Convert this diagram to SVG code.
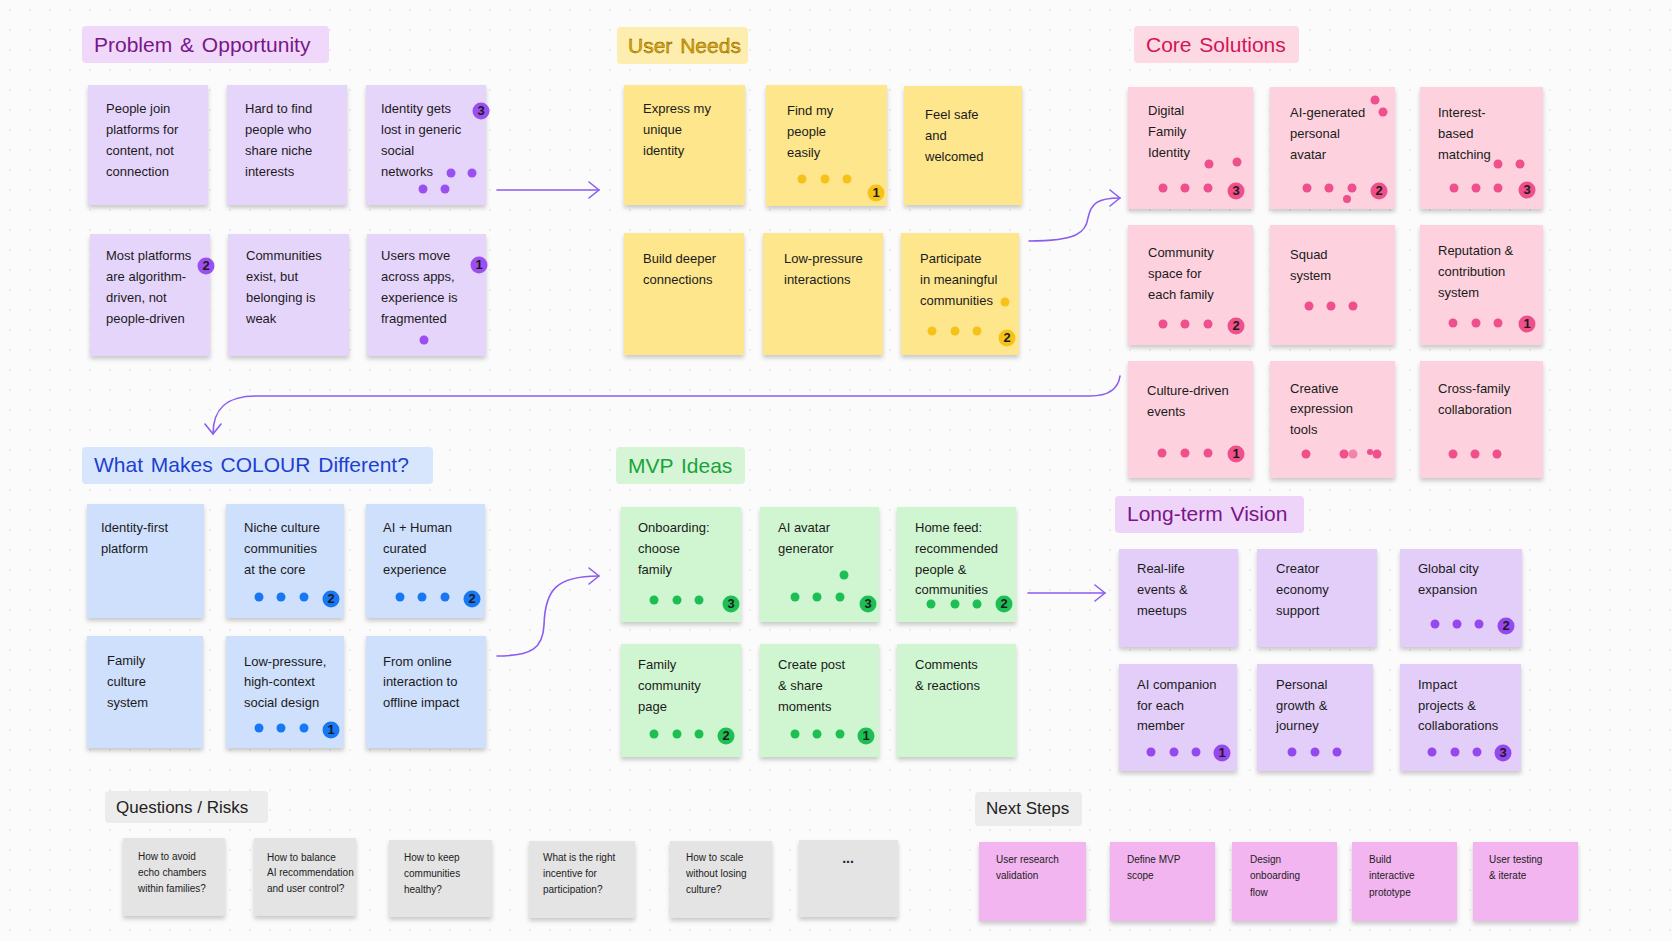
<svg xmlns="http://www.w3.org/2000/svg" width="1672" height="941" viewBox="0 0 1672 941">
<defs>
<pattern id="grid" width="20" height="20" patternUnits="userSpaceOnUse"><circle cx="10" cy="10" r="0.9" fill="#e4e4e4"/></pattern>
<filter id="sh" x="-10%" y="-10%" width="120%" height="130%"><feDropShadow dx="0" dy="3" stdDeviation="2" flood-color="#000" flood-opacity="0.2"/></filter>
<marker id="ah" viewBox="0 0 12 18" refX="11" refY="9" markerWidth="12" markerHeight="18" markerUnits="userSpaceOnUse" orient="auto"><path d="M1,1 L11,9 L1,17" fill="none" stroke="#8b5cf0" stroke-width="1.6" stroke-linecap="round" stroke-linejoin="round"/></marker>
<style>
text{font-family:"Liberation Sans",Arial,sans-serif}
.n text{font-size:13px;fill:#1b1b1b}
.note{filter:url(#sh)}
.t{font-size:21px;word-spacing:2px}
.ts{font-size:17px;fill:#222}
.q text{font-size:10px;fill:#222}
.s text{font-size:10px;fill:#222}
.b{font-size:10px;font-weight:bold;fill:#fff;text-anchor:middle}
.by{font-size:10px;font-weight:bold;fill:#8a6500;text-anchor:middle}
.pu{fill:#e6d5fb}.puT{fill:#efd8fa}.puD{fill:#9b4ff0}
.ye{fill:#fde68c}.yeT{fill:#fdeeb0}.yeD{fill:#f6c21a}
.pk{fill:#fdd2de}.pkT{fill:#fcd9e3}.pkD{fill:#ef4f8b}
.bl{fill:#cfe0fc}.blT{fill:#d8e6fd}.blD{fill:#1877f2}
.gr{fill:#d0f6d1}.grT{fill:#d6f5d7}.grD{fill:#1dbf55}
.vi{fill:#e3cefa}.viT{fill:#eed4f9}.viD{fill:#9448ee}
.gy{fill:#e4e4e4}.gyT{fill:#ececec}
.mg{fill:#f3b5f0}
.edge{fill:none;stroke:#8b5cf0;stroke-width:1.6;stroke-linecap:round}
</style>
</defs>
<rect width="1672" height="941" fill="#fbfbfb"/>
<rect width="1672" height="941" fill="url(#grid)"/>

<!-- Titles -->
<g id="title-problem"><rect x="82" y="26" width="247" height="37" rx="4" class="puT"/><text x="94" y="52" class="t" fill="#7a1688">Problem &amp; Opportunity</text></g>
<g id="title-needs"><rect x="617" y="27" width="131" height="37" rx="4" class="yeT"/><text x="628" y="53" class="t" fill="#e5ab00" stroke="#6b4a00" stroke-width="0.4">User Needs</text></g>
<g id="title-core"><rect x="1134" y="26" width="165" height="37" rx="4" class="pkT"/><text x="1146" y="52" class="t" fill="#d3145a">Core Solutions</text></g>
<g id="title-diff"><rect x="82" y="447" width="351" height="37" rx="4" class="blT"/><text x="94" y="472" class="t" fill="#1c3fd0">What Makes COLOUR Different?</text></g>
<g id="title-mvp"><rect x="616" y="447" width="129" height="37" rx="4" class="grT"/><text x="628" y="473" class="t" fill="#19a33a">MVP Ideas</text></g>
<g id="title-vision"><rect x="1115" y="496" width="189" height="37" rx="4" class="viT"/><text x="1127" y="521" class="t" fill="#7a1688">Long-term Vision</text></g>
<g id="title-questions"><rect x="105" y="791" width="163" height="32" rx="4" class="gyT"/><text x="116" y="813" class="ts">Questions / Risks</text></g>
<g id="title-next"><rect x="975" y="792" width="107" height="34" rx="4" class="gyT"/><text x="986" y="814" class="ts">Next Steps</text></g>

<!-- Connectors -->
<g id="connectors">
<path class="edge" d="M497,190 L599,190" marker-end="url(#ah)"/>
<path class="edge" d="M1029,241 C1078,241 1086,232 1088,218 C1091,203 1098,198 1120,198" marker-end="url(#ah)"/>
<path class="edge" d="M1120,376 C1118,390 1108,396 1090,396 L256,396 C225,396 213,410 213,434" marker-end="url(#ah)"/>
<path class="edge" d="M497,656 C532,656 543,648 544,625 C545,590 556,576 599,576" marker-end="url(#ah)"/>
<path class="edge" d="M1028,593 L1105,593" marker-end="url(#ah)"/>
</g>

<!-- Problem & Opportunity -->
<g id="p1" class="n"><rect class="note pu" x="88" y="85" width="120" height="120"/><text><tspan x="106" y="113">People join</tspan><tspan x="106" y="134">platforms for</tspan><tspan x="106" y="155">content, not</tspan><tspan x="106" y="176">connection</tspan></text></g>
<g id="p2" class="n"><rect class="note pu" x="227" y="85" width="120" height="120"/><text><tspan x="245" y="113">Hard to find</tspan><tspan x="245" y="134">people who</tspan><tspan x="245" y="155">share niche</tspan><tspan x="245" y="176">interests</tspan></text></g>
<g id="p3" class="n"><rect class="note pu" x="366" y="85" width="120" height="120"/><text><tspan x="381" y="113">Identity gets</tspan><tspan x="381" y="134">lost in generic</tspan><tspan x="381" y="155">social</tspan><tspan x="381" y="176">networks</tspan></text>
<circle cx="451" cy="173" r="4.5" class="puD"/><circle cx="472" cy="173" r="4.5" class="puD"/><circle cx="423" cy="189" r="4.5" class="puD"/><circle cx="445" cy="189" r="4.5" class="puD"/>
<circle cx="481" cy="111" r="8.5" class="puD"/><text x="481" y="114.5" class="b">3</text></g>
<g id="p4" class="n"><rect class="note pu" x="90" y="234" width="120" height="122"/><text><tspan x="106" y="260">Most platforms</tspan><tspan x="106" y="281">are algorithm-</tspan><tspan x="106" y="302">driven, not</tspan><tspan x="106" y="323">people-driven</tspan></text>
<circle cx="206" cy="266" r="8.5" class="puD"/><text x="206" y="269.5" class="b">2</text></g>
<g id="p5" class="n"><rect class="note pu" x="228" y="234" width="121" height="122"/><text><tspan x="246" y="260">Communities</tspan><tspan x="246" y="281">exist, but</tspan><tspan x="246" y="302">belonging is</tspan><tspan x="246" y="323">weak</tspan></text></g>
<g id="p6" class="n"><rect class="note pu" x="367" y="234" width="119" height="122"/><text><tspan x="381" y="260">Users move</tspan><tspan x="381" y="281">across apps,</tspan><tspan x="381" y="302">experience is</tspan><tspan x="381" y="323">fragmented</tspan></text>
<circle cx="424" cy="340" r="4.5" class="puD"/>
<circle cx="479" cy="265" r="8.5" class="puD"/><text x="479" y="268.5" class="b">1</text></g>

<!-- User Needs -->
<g id="u1" class="n"><rect class="note ye" x="624" y="85" width="121" height="120"/><text><tspan x="643" y="113">Express my</tspan><tspan x="643" y="134">unique</tspan><tspan x="643" y="155">identity</tspan></text></g>
<g id="u2" class="n"><rect class="note ye" x="766" y="85" width="121" height="121"/><text><tspan x="787" y="115">Find my</tspan><tspan x="787" y="136">people</tspan><tspan x="787" y="157">easily</tspan></text>
<circle cx="802" cy="179" r="4.5" class="yeD"/><circle cx="825" cy="179" r="4.5" class="yeD"/><circle cx="847" cy="179" r="4.5" class="yeD"/>
<circle cx="876" cy="193" r="8.5" class="yeD"/><text x="876" y="196.5" class="by">1</text></g>
<g id="u3" class="n"><rect class="note ye" x="904" y="86" width="118" height="119"/><text><tspan x="925" y="119">Feel safe</tspan><tspan x="925" y="140">and</tspan><tspan x="925" y="161">welcomed</tspan></text></g>
<g id="u4" class="n"><rect class="note ye" x="624" y="233" width="120" height="122"/><text><tspan x="643" y="263">Build deeper</tspan><tspan x="643" y="284">connections</tspan></text></g>
<g id="u5" class="n"><rect class="note ye" x="763" y="233" width="120" height="122"/><text><tspan x="784" y="263">Low-pressure</tspan><tspan x="784" y="284">interactions</tspan></text></g>
<g id="u6" class="n"><rect class="note ye" x="901" y="233" width="118" height="122"/><text><tspan x="920" y="263">Participate</tspan><tspan x="920" y="284">in meaningful</tspan><tspan x="920" y="305">communities</tspan></text>
<circle cx="1005" cy="302" r="4.5" class="yeD"/><circle cx="932" cy="331" r="4.5" class="yeD"/><circle cx="955" cy="331" r="4.5" class="yeD"/><circle cx="977" cy="331" r="4.5" class="yeD"/>
<circle cx="1007" cy="338" r="8.5" class="yeD"/><text x="1007" y="341.5" class="by">2</text></g>

<!-- Core Solutions -->
<g id="c1" class="n"><rect class="note pk" x="1128" y="87" width="125" height="122"/><text><tspan x="1148" y="115">Digital</tspan><tspan x="1148" y="136">Family</tspan><tspan x="1148" y="157">Identity</tspan></text>
<circle cx="1209" cy="164" r="4.5" class="pkD"/><circle cx="1237" cy="162" r="4.5" class="pkD"/><circle cx="1163" cy="188" r="4.5" class="pkD"/><circle cx="1185" cy="188" r="4.5" class="pkD"/><circle cx="1208" cy="188" r="4.5" class="pkD"/>
<circle cx="1236" cy="191" r="8.5" class="pkD"/><text x="1236" y="194.5" class="b">3</text></g>
<g id="c2" class="n"><rect class="note pk" x="1270" y="87" width="125" height="122"/><text><tspan x="1290" y="117">AI-generated</tspan><tspan x="1290" y="138">personal</tspan><tspan x="1290" y="159">avatar</tspan></text>
<circle cx="1375" cy="100" r="4.5" class="pkD"/><circle cx="1383" cy="112" r="4.5" class="pkD"/><circle cx="1307" cy="188" r="4.5" class="pkD"/><circle cx="1329" cy="188" r="4.5" class="pkD"/><circle cx="1352" cy="188" r="4.5" class="pkD"/><circle cx="1347" cy="199" r="4" class="pkD"/>
<circle cx="1379" cy="191" r="8.5" class="pkD"/><text x="1379" y="194.5" class="b">2</text></g>
<g id="c3" class="n"><rect class="note pk" x="1420" y="87" width="123" height="122"/><text><tspan x="1438" y="117">Interest-</tspan><tspan x="1438" y="138">based</tspan><tspan x="1438" y="159">matching</tspan></text>
<circle cx="1498" cy="164" r="4.5" class="pkD"/><circle cx="1520" cy="164" r="4.5" class="pkD"/><circle cx="1454" cy="188" r="4.5" class="pkD"/><circle cx="1476" cy="188" r="4.5" class="pkD"/><circle cx="1498" cy="188" r="4.5" class="pkD"/>
<circle cx="1527" cy="190" r="8.5" class="pkD"/><text x="1527" y="193.5" class="b">3</text></g>
<g id="c4" class="n"><rect class="note pk" x="1128" y="225" width="125" height="120"/><text><tspan x="1148" y="257">Community</tspan><tspan x="1148" y="278">space for</tspan><tspan x="1148" y="299">each family</tspan></text>
<circle cx="1163" cy="324" r="4.5" class="pkD"/><circle cx="1185" cy="324" r="4.5" class="pkD"/><circle cx="1208" cy="324" r="4.5" class="pkD"/>
<circle cx="1236" cy="326" r="8.5" class="pkD"/><text x="1236" y="329.5" class="b">2</text></g>
<g id="c5" class="n"><rect class="note pk" x="1270" y="225" width="125" height="120"/><text><tspan x="1290" y="259">Squad</tspan><tspan x="1290" y="280">system</tspan></text>
<circle cx="1309" cy="306" r="4.5" class="pkD"/><circle cx="1331" cy="306" r="4.5" class="pkD"/><circle cx="1353" cy="306" r="4.5" class="pkD"/></g>
<g id="c6" class="n"><rect class="note pk" x="1420" y="225" width="123" height="120"/><text><tspan x="1438" y="255">Reputation &amp;</tspan><tspan x="1438" y="276">contribution</tspan><tspan x="1438" y="297">system</tspan></text>
<circle cx="1453" cy="323" r="4.5" class="pkD"/><circle cx="1476" cy="323" r="4.5" class="pkD"/><circle cx="1498" cy="323" r="4.5" class="pkD"/>
<circle cx="1527" cy="324" r="8.5" class="pkD"/><text x="1527" y="327.5" class="b">1</text></g>
<g id="c7" class="n"><rect class="note pk" x="1128" y="361" width="125" height="117"/><text><tspan x="1147" y="395">Culture-driven</tspan><tspan x="1147" y="416">events</tspan></text>
<circle cx="1162" cy="453" r="4.5" class="pkD"/><circle cx="1185" cy="453" r="4.5" class="pkD"/><circle cx="1208" cy="453" r="4.5" class="pkD"/>
<circle cx="1236" cy="454" r="8.5" class="pkD"/><text x="1236" y="457.5" class="b">1</text></g>
<g id="c8" class="n"><rect class="note pk" x="1270" y="361" width="125" height="117"/><text><tspan x="1290" y="393">Creative</tspan><tspan x="1290" y="413">expression</tspan><tspan x="1290" y="434">tools</tspan></text>
<circle cx="1306" cy="454" r="4.5" class="pkD"/><circle cx="1344" cy="454" r="4.5" class="pkD"/><circle cx="1353" cy="454" r="4.5" class="pkD" opacity="0.6"/><circle cx="1370" cy="452" r="3" class="pkD"/><circle cx="1377" cy="454" r="4.5" class="pkD"/></g>
<g id="c9" class="n"><rect class="note pk" x="1420" y="361" width="123" height="117"/><text><tspan x="1438" y="393">Cross-family</tspan><tspan x="1438" y="414">collaboration</tspan></text>
<circle cx="1453" cy="454" r="4.5" class="pkD"/><circle cx="1475" cy="454" r="4.5" class="pkD"/><circle cx="1497" cy="454" r="4.5" class="pkD"/></g>

<!-- What Makes COLOUR Different -->
<g id="d1" class="n"><rect class="note bl" x="87" y="504" width="117" height="114"/><text><tspan x="101" y="532">Identity-first</tspan><tspan x="101" y="553">platform</tspan></text></g>
<g id="d2" class="n"><rect class="note bl" x="226" y="504" width="118" height="114"/><text><tspan x="244" y="532">Niche culture</tspan><tspan x="244" y="553">communities</tspan><tspan x="244" y="574">at the core</tspan></text>
<circle cx="259" cy="597" r="4.5" class="blD"/><circle cx="281" cy="597" r="4.5" class="blD"/><circle cx="304" cy="597" r="4.5" class="blD"/>
<circle cx="331" cy="599" r="8.5" class="blD"/><text x="331" y="602.5" class="b">2</text></g>
<g id="d3" class="n"><rect class="note bl" x="366" y="504" width="119" height="114"/><text><tspan x="383" y="532">AI + Human</tspan><tspan x="383" y="553">curated</tspan><tspan x="383" y="574">experience</tspan></text>
<circle cx="400" cy="597" r="4.5" class="blD"/><circle cx="422" cy="597" r="4.5" class="blD"/><circle cx="445" cy="597" r="4.5" class="blD"/>
<circle cx="472" cy="599" r="8.5" class="blD"/><text x="472" y="602.5" class="b">2</text></g>
<g id="d4" class="n"><rect class="note bl" x="87" y="636" width="116" height="112"/><text><tspan x="107" y="665">Family</tspan><tspan x="107" y="686">culture</tspan><tspan x="107" y="707">system</tspan></text></g>
<g id="d5" class="n"><rect class="note bl" x="226" y="636" width="118" height="112"/><text><tspan x="244" y="666">Low-pressure,</tspan><tspan x="244" y="686">high-context</tspan><tspan x="244" y="707">social design</tspan></text>
<circle cx="259" cy="728" r="4.5" class="blD"/><circle cx="281" cy="728" r="4.5" class="blD"/><circle cx="304" cy="728" r="4.5" class="blD"/>
<circle cx="331" cy="730" r="8.5" class="blD"/><text x="331" y="733.5" class="b">1</text></g>
<g id="d6" class="n"><rect class="note bl" x="366" y="636" width="120" height="112"/><text><tspan x="383" y="666">From online</tspan><tspan x="383" y="686">interaction to</tspan><tspan x="383" y="707">offline impact</tspan></text></g>

<!-- MVP Ideas -->
<g id="m1" class="n"><rect class="note gr" x="621" y="507" width="120" height="115"/><text><tspan x="638" y="532">Onboarding:</tspan><tspan x="638" y="553">choose</tspan><tspan x="638" y="574">family</tspan></text>
<circle cx="654" cy="600" r="4.5" class="grD"/><circle cx="677" cy="600" r="4.5" class="grD"/><circle cx="699" cy="600" r="4.5" class="grD"/>
<circle cx="731" cy="604" r="8.5" class="grD"/><text x="731" y="607.5" class="b">3</text></g>
<g id="m2" class="n"><rect class="note gr" x="760" y="507" width="119" height="115"/><text><tspan x="778" y="532">AI avatar</tspan><tspan x="778" y="553">generator</tspan></text>
<circle cx="844" cy="575" r="4.5" class="grD"/><circle cx="795" cy="597" r="4.5" class="grD"/><circle cx="817" cy="597" r="4.5" class="grD"/><circle cx="840" cy="597" r="4.5" class="grD"/>
<circle cx="868" cy="604" r="8.5" class="grD"/><text x="868" y="607.5" class="b">3</text></g>
<g id="m3" class="n"><rect class="note gr" x="897" y="507" width="119" height="115"/><text><tspan x="915" y="532">Home feed:</tspan><tspan x="915" y="553">recommended</tspan><tspan x="915" y="574">people &amp;</tspan><tspan x="915" y="594">communities</tspan></text>
<circle cx="931" cy="604" r="4.5" class="grD"/><circle cx="955" cy="604" r="4.5" class="grD"/><circle cx="977" cy="604" r="4.5" class="grD"/>
<circle cx="1004" cy="604" r="8.5" class="grD"/><text x="1004" y="607.5" class="b">2</text></g>
<g id="m4" class="n"><rect class="note gr" x="621" y="644" width="120" height="113"/><text><tspan x="638" y="669">Family</tspan><tspan x="638" y="690">community</tspan><tspan x="638" y="711">page</tspan></text>
<circle cx="654" cy="734" r="4.5" class="grD"/><circle cx="677" cy="734" r="4.5" class="grD"/><circle cx="699" cy="734" r="4.5" class="grD"/>
<circle cx="726" cy="736" r="8.5" class="grD"/><text x="726" y="739.5" class="b">2</text></g>
<g id="m5" class="n"><rect class="note gr" x="760" y="644" width="119" height="113"/><text><tspan x="778" y="669">Create post</tspan><tspan x="778" y="690">&amp; share</tspan><tspan x="778" y="711">moments</tspan></text>
<circle cx="795" cy="734" r="4.5" class="grD"/><circle cx="817" cy="734" r="4.5" class="grD"/><circle cx="840" cy="734" r="4.5" class="grD"/>
<circle cx="866" cy="736" r="8.5" class="grD"/><text x="866" y="739.5" class="b">1</text></g>
<g id="m6" class="n"><rect class="note gr" x="897" y="644" width="119" height="113"/><text><tspan x="915" y="669">Comments</tspan><tspan x="915" y="690">&amp; reactions</tspan></text></g>

<!-- Long-term Vision -->
<g id="v1" class="n"><rect class="note vi" x="1119" y="549" width="119" height="98"/><text><tspan x="1137" y="573">Real-life</tspan><tspan x="1137" y="594">events &amp;</tspan><tspan x="1137" y="615">meetups</tspan></text></g>
<g id="v2" class="n"><rect class="note vi" x="1257" y="549" width="120" height="98"/><text><tspan x="1276" y="573">Creator</tspan><tspan x="1276" y="594">economy</tspan><tspan x="1276" y="615">support</tspan></text></g>
<g id="v3" class="n"><rect class="note vi" x="1400" y="549" width="122" height="98"/><text><tspan x="1418" y="573">Global city</tspan><tspan x="1418" y="594">expansion</tspan></text>
<circle cx="1435" cy="624" r="4.5" class="viD"/><circle cx="1457" cy="624" r="4.5" class="viD"/><circle cx="1479" cy="624" r="4.5" class="viD"/>
<circle cx="1506" cy="626" r="8.5" class="viD"/><text x="1506" y="629.5" class="b">2</text></g>
<g id="v4" class="n"><rect class="note vi" x="1119" y="664" width="118" height="107"/><text><tspan x="1137" y="689">AI companion</tspan><tspan x="1137" y="710">for each</tspan><tspan x="1137" y="730">member</tspan></text>
<circle cx="1151" cy="752" r="4.5" class="viD"/><circle cx="1174" cy="752" r="4.5" class="viD"/><circle cx="1196" cy="752" r="4.5" class="viD"/>
<circle cx="1222" cy="753" r="8.5" class="viD"/><text x="1222" y="756.5" class="b">1</text></g>
<g id="v5" class="n"><rect class="note vi" x="1257" y="664" width="116" height="107"/><text><tspan x="1276" y="689">Personal</tspan><tspan x="1276" y="710">growth &amp;</tspan><tspan x="1276" y="730">journey</tspan></text>
<circle cx="1292" cy="752" r="4.5" class="viD"/><circle cx="1315" cy="752" r="4.5" class="viD"/><circle cx="1337" cy="752" r="4.5" class="viD"/></g>
<g id="v6" class="n"><rect class="note vi" x="1400" y="664" width="121" height="107"/><text><tspan x="1418" y="689">Impact</tspan><tspan x="1418" y="710">projects &amp;</tspan><tspan x="1418" y="730">collaborations</tspan></text>
<circle cx="1432" cy="752" r="4.5" class="viD"/><circle cx="1455" cy="752" r="4.5" class="viD"/><circle cx="1477" cy="752" r="4.5" class="viD"/>
<circle cx="1503" cy="753" r="8.5" class="viD"/><text x="1503" y="756.5" class="b">3</text></g>

<!-- Questions / Risks -->
<g id="q1" class="q"><rect class="note gy" x="123" y="838" width="102" height="78"/><text><tspan x="138" y="860">How to avoid</tspan><tspan x="138" y="876">echo chambers</tspan><tspan x="138" y="892">within families?</tspan></text></g>
<g id="q2" class="q"><rect class="note gy" x="254" y="838" width="102" height="78"/><text><tspan x="267" y="861">How to balance</tspan><tspan x="267" y="876">AI recommendation</tspan><tspan x="267" y="892">and user control?</tspan></text></g>
<g id="q3" class="q"><rect class="note gy" x="389" y="840" width="103" height="77"/><text><tspan x="404" y="861">How to keep</tspan><tspan x="404" y="877">communities</tspan><tspan x="404" y="893">healthy?</tspan></text></g>
<g id="q4" class="q"><rect class="note gy" x="529" y="841" width="106" height="77"/><text><tspan x="543" y="861">What is the right</tspan><tspan x="543" y="877">incentive for</tspan><tspan x="543" y="893">participation?</tspan></text></g>
<g id="q5" class="q"><rect class="note gy" x="670" y="841" width="102" height="77"/><text><tspan x="686" y="861">How to scale</tspan><tspan x="686" y="877">without losing</tspan><tspan x="686" y="893">culture?</tspan></text></g>
<g id="q6" class="q"><rect class="note gy" x="799" y="840" width="99" height="77"/><text x="848" y="863" text-anchor="middle" style="font-size:14px;font-weight:bold">...</text></g>

<!-- Next Steps -->
<g id="s1" class="s"><rect class="note mg" x="979" y="842" width="107" height="79"/><text><tspan x="996" y="863">User research</tspan><tspan x="996" y="879">validation</tspan></text></g>
<g id="s2" class="s"><rect class="note mg" x="1110" y="842" width="105" height="79"/><text><tspan x="1127" y="863">Define MVP</tspan><tspan x="1127" y="879">scope</tspan></text></g>
<g id="s3" class="s"><rect class="note mg" x="1232" y="842" width="105" height="79"/><text><tspan x="1250" y="863">Design</tspan><tspan x="1250" y="879">onboarding</tspan><tspan x="1250" y="896">flow</tspan></text></g>
<g id="s4" class="s"><rect class="note mg" x="1352" y="842" width="105" height="79"/><text><tspan x="1369" y="863">Build</tspan><tspan x="1369" y="879">interactive</tspan><tspan x="1369" y="896">prototype</tspan></text></g>
<g id="s5" class="s"><rect class="note mg" x="1473" y="842" width="105" height="79"/><text><tspan x="1489" y="863">User testing</tspan><tspan x="1489" y="879">&amp; iterate</tspan></text></g>
</svg>
